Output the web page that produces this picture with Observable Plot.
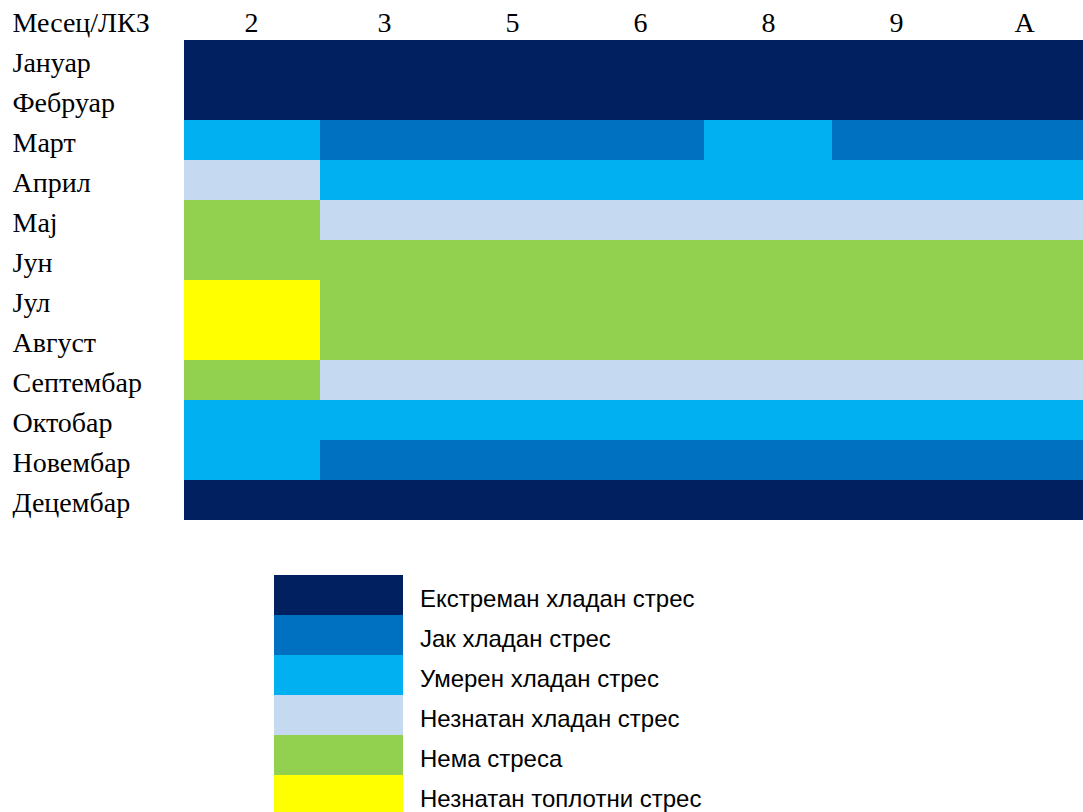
<!DOCTYPE html>
<html>
<head>
<meta charset="utf-8">
<script src="https://cdn.jsdelivr.net/npm/d3@7"></script>
<script src="https://cdn.jsdelivr.net/npm/@observablehq/plot@0.6"></script>
<style>
  html, body { margin: 0; padding: 0; background: #fff; }
  #chart svg { display: block; overflow: visible; }
</style>
</head>
<body>
<div id="chart"></div>
<script>
// ---- Data ----
const zones = ["2", "3", "5", "6", "8", "9", "A"];
const months = ["Јануар", "Фебруар", "Март", "Април", "Мај", "Јун", "Јул", "Август", "Септембар", "Октобар", "Новембар", "Децембар"];
const categories = ["Екстреман хладан стрес", "Јак хладан стрес", "Умерен хладан стрес", "Незнатан хладан стрес", "Нема стреса", "Незнатан топлотни стрес"];
const colors = ["#002060", "#0070C0", "#00B0F0", "#C5D9F1", "#92D050", "#FFFF00"];
const headerLabel = "Месец/ЛКЗ";
// category index per month (rows) and zone (columns)
const stress = [
  [0, 0, 0, 0, 0, 0, 0],
  [0, 0, 0, 0, 0, 0, 0],
  [2, 1, 1, 1, 2, 1, 1],
  [3, 2, 2, 2, 2, 2, 2],
  [4, 3, 3, 3, 3, 3, 3],
  [4, 4, 4, 4, 4, 4, 4],
  [5, 4, 4, 4, 4, 4, 4],
  [5, 4, 4, 4, 4, 4, 4],
  [4, 3, 3, 3, 3, 3, 3],
  [2, 2, 2, 2, 2, 2, 2],
  [2, 1, 1, 1, 1, 1, 1],
  [0, 0, 0, 0, 0, 0, 0]
];

const cells = months.flatMap((m, i) => zones.map((z, j) => ({month: m, zone: z, cat: categories[stress[i][j]]})));

const serif = "'Liberation Serif', 'Times New Roman', serif";
const sans = "'Liberation Sans', Arial, sans-serif";
const fs = 28;

const main = Plot.plot({
  width: 1083,
  height: 540,
  marginLeft: 184,
  marginRight: 0,
  marginTop: 40,
  marginBottom: 20,
  style: {fontFamily: serif, fontSize: fs + "px", color: "#000", background: "#fff"},
  x: {domain: zones, range: [192, 1088], padding: 0, axis: null},
  y: {domain: months, padding: 0, axis: null},
  color: {type: "ordinal", domain: categories, range: colors},
  marks: [
    Plot.cell(cells.filter(d => d.zone !== zones[0]), {x: "zone", y: "month", fill: "cat"}),
    Plot.cell(cells.filter(d => d.zone === zones[0]), {x: "zone", y: "month", fill: "cat", insetLeft: -8}),
    // column (zone) labels along the top
    Plot.text(zones.slice(1), {x: d => d, text: d => d, frameAnchor: "top", lineAnchor: "middle", dy: -17, fontSize: fs, fill: "#000"}),
    Plot.text([zones[0]], {x: d => d, text: d => d, frameAnchor: "top", lineAnchor: "middle", dy: -17, dx: -5, fontSize: fs, fill: "#000"}),
    // month labels
    Plot.text(months, {y: d => d, text: d => d, frameAnchor: "left", textAnchor: "start", lineAnchor: "middle", dx: -172, dy: 3, fontSize: fs, fill: "#000"}),
    // corner header
    Plot.text([headerLabel], {text: d => d, frameAnchor: "top-left", textAnchor: "start", lineAnchor: "middle", dx: -172, dy: -17, fontSize: fs, fill: "#000"})
  ]
});

const legend = Plot.plot({
  width: 1083,
  height: 272,
  margin: 0,
  style: {fontFamily: sans, fontSize: "24px", color: "#000", background: "#fff"},
  x: {domain: ["swatch"], range: [274, 403], padding: 0, axis: null},
  y: {domain: categories, range: [35, 275], padding: 0, axis: null},
  color: {type: "ordinal", domain: categories, range: colors},
  marks: [
    Plot.cell(categories, {x: () => "swatch", y: d => d, fill: d => d}),
    Plot.text(categories, {x: () => "swatch", y: d => d, text: d => d, textAnchor: "start", lineAnchor: "middle", dx: 81, dy: 4, fontSize: 24, fill: "#000"})
  ]
});

const root = document.getElementById("chart");
root.appendChild(main);
root.appendChild(legend);
</script>
</body>
</html>
